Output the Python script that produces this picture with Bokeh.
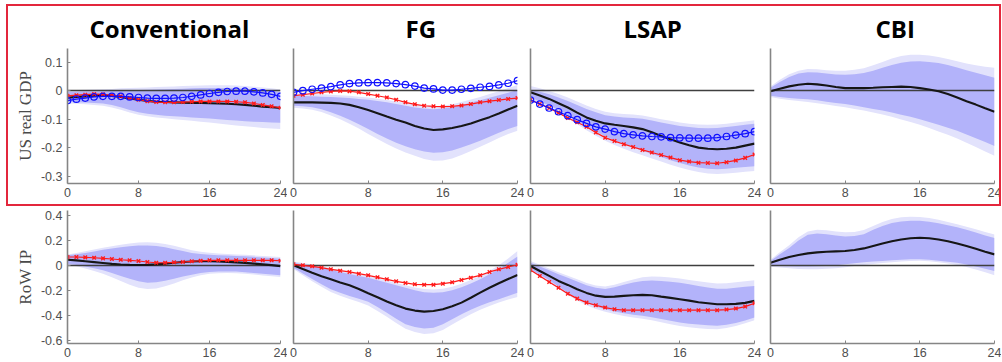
from bokeh.plotting import figure
from bokeh.layouts import row, column
from bokeh.models import Range1d, FixedTicker, InlineStyleSheet
from bokeh.embed import file_html
from bokeh.resources import INLINE

# ---------------- data ----------------
horizon = list(range(25))
titles = ["Conventional", "FG", "LSAP", "CBI"]
row_labels = ["US real GDP", "RoW IP"]
x_ticks = [0, 8, 16, 24]
gdp_ticks = [-0.3, -0.2, -0.1, 0, 0.1]
gdp_tick_labels = ["-0.3", "-0.2", "-0.1", "0", "0.1"]
ip_ticks = [-0.6, -0.4, -0.2, 0, 0.2, 0.4]
ip_tick_labels = ["-0.6", "-0.4", "-0.2", "0", "0.2", "0.4"]

# US real GDP -- Conventional
gdp_conv_med = [-0.025,-0.022,-0.020,-0.018,-0.018,-0.019,-0.022,-0.027,-0.032,-0.036,-0.039,-0.040,-0.041,-0.042,-0.043,-0.043,-0.044,-0.045,-0.046,-0.048,-0.050,-0.053,-0.056,-0.058,-0.061]
gdp_conv_in_hi = [-0.005,-0.004,-0.003,-0.003,-0.002,-0.001,0.000,0.001,0.002,0.003,0.004,0.005,0.006,0.007,0.008,0.009,0.009,0.009,0.009,0.008,0.007,0.005,0.002,-0.001,-0.005]
gdp_conv_in_lo = [-0.040,-0.041,-0.042,-0.043,-0.045,-0.050,-0.058,-0.068,-0.076,-0.081,-0.085,-0.088,-0.090,-0.092,-0.094,-0.096,-0.098,-0.100,-0.103,-0.105,-0.107,-0.109,-0.110,-0.112,-0.113]
gdp_conv_out_hi = [0.001,0.002,0.003,0.004,0.005,0.006,0.008,0.009,0.010,0.011,0.013,0.014,0.015,0.016,0.017,0.018,0.019,0.019,0.019,0.018,0.016,0.014,0.011,0.008,0.004]
gdp_conv_out_lo = [-0.045,-0.046,-0.048,-0.050,-0.053,-0.059,-0.067,-0.077,-0.085,-0.090,-0.094,-0.097,-0.100,-0.103,-0.106,-0.109,-0.112,-0.115,-0.119,-0.122,-0.125,-0.128,-0.131,-0.133,-0.135]
gdp_conv_red = [-0.018,-0.016,-0.014,-0.012,-0.013,-0.016,-0.020,-0.026,-0.032,-0.037,-0.040,-0.041,-0.041,-0.040,-0.039,-0.038,-0.038,-0.038,-0.038,-0.039,-0.041,-0.045,-0.050,-0.055,-0.060]
gdp_conv_blue = [-0.035,-0.030,-0.026,-0.022,-0.020,-0.020,-0.020,-0.022,-0.024,-0.026,-0.027,-0.027,-0.026,-0.024,-0.020,-0.015,-0.010,-0.006,-0.003,-0.002,-0.002,-0.004,-0.008,-0.013,-0.020]

# US real GDP -- FG
gdp_fg_med = [-0.041,-0.041,-0.041,-0.042,-0.043,-0.045,-0.050,-0.058,-0.068,-0.079,-0.091,-0.102,-0.112,-0.124,-0.133,-0.138,-0.136,-0.131,-0.124,-0.115,-0.104,-0.093,-0.080,-0.066,-0.053]
gdp_fg_in_hi = [-0.018,-0.019,-0.020,-0.021,-0.022,-0.024,-0.026,-0.029,-0.032,-0.036,-0.041,-0.047,-0.053,-0.059,-0.063,-0.065,-0.063,-0.058,-0.050,-0.042,-0.034,-0.025,-0.016,-0.007,0.002]
gdp_fg_in_lo = [-0.053,-0.055,-0.058,-0.065,-0.076,-0.088,-0.102,-0.118,-0.135,-0.152,-0.168,-0.183,-0.195,-0.206,-0.214,-0.218,-0.216,-0.210,-0.200,-0.188,-0.176,-0.162,-0.148,-0.135,-0.124]
gdp_fg_out_hi = [-0.010,-0.011,-0.012,-0.013,-0.014,-0.016,-0.018,-0.021,-0.024,-0.028,-0.033,-0.038,-0.043,-0.049,-0.053,-0.055,-0.053,-0.048,-0.040,-0.031,-0.022,-0.012,-0.002,0.009,0.020]
gdp_fg_out_lo = [-0.060,-0.063,-0.067,-0.075,-0.087,-0.100,-0.116,-0.133,-0.152,-0.170,-0.187,-0.203,-0.217,-0.229,-0.240,-0.246,-0.245,-0.238,-0.226,-0.212,-0.197,-0.182,-0.166,-0.152,-0.141]
gdp_fg_red = [-0.018,-0.014,-0.010,-0.006,-0.003,-0.001,-0.002,-0.006,-0.012,-0.018,-0.024,-0.032,-0.041,-0.048,-0.053,-0.055,-0.056,-0.055,-0.052,-0.047,-0.041,-0.037,-0.033,-0.029,-0.026]
gdp_fg_blue = [-0.006,0.000,0.005,0.009,0.014,0.020,0.025,0.027,0.028,0.028,0.027,0.025,0.021,0.016,0.009,0.006,0.002,0.002,0.005,0.008,0.012,0.015,0.020,0.026,0.035]

# US real GDP -- LSAP
gdp_lsap_med = [-0.006,-0.017,-0.029,-0.044,-0.059,-0.077,-0.094,-0.106,-0.115,-0.120,-0.124,-0.129,-0.135,-0.146,-0.159,-0.171,-0.182,-0.192,-0.200,-0.204,-0.206,-0.204,-0.200,-0.193,-0.186]
gdp_lsap_in_hi = [0.004,-0.004,-0.013,-0.024,-0.036,-0.050,-0.064,-0.076,-0.086,-0.091,-0.094,-0.096,-0.099,-0.105,-0.112,-0.118,-0.124,-0.128,-0.131,-0.132,-0.131,-0.128,-0.124,-0.120,-0.116]
gdp_lsap_in_lo = [-0.024,-0.038,-0.052,-0.068,-0.085,-0.104,-0.124,-0.143,-0.160,-0.175,-0.188,-0.200,-0.211,-0.222,-0.233,-0.244,-0.254,-0.263,-0.270,-0.274,-0.276,-0.274,-0.271,-0.268,-0.265]
gdp_lsap_out_hi = [0.016,0.008,-0.001,-0.012,-0.024,-0.038,-0.052,-0.064,-0.074,-0.079,-0.082,-0.084,-0.087,-0.093,-0.100,-0.106,-0.112,-0.116,-0.119,-0.120,-0.119,-0.116,-0.112,-0.108,-0.104]
gdp_lsap_out_lo = [-0.032,-0.047,-0.063,-0.080,-0.098,-0.118,-0.139,-0.158,-0.176,-0.191,-0.204,-0.216,-0.227,-0.238,-0.249,-0.260,-0.270,-0.279,-0.286,-0.291,-0.293,-0.291,-0.288,-0.285,-0.282]
gdp_lsap_red = [-0.033,-0.047,-0.061,-0.078,-0.096,-0.111,-0.127,-0.147,-0.165,-0.177,-0.188,-0.198,-0.208,-0.217,-0.226,-0.235,-0.244,-0.249,-0.253,-0.254,-0.255,-0.251,-0.245,-0.236,-0.224]
gdp_lsap_blue = [-0.033,-0.047,-0.061,-0.074,-0.088,-0.102,-0.115,-0.127,-0.135,-0.144,-0.151,-0.155,-0.159,-0.161,-0.162,-0.165,-0.166,-0.167,-0.167,-0.167,-0.165,-0.161,-0.156,-0.151,-0.144]

# US real GDP -- CBI
gdp_cbi_med = [-0.002,0.007,0.015,0.021,0.024,0.022,0.018,0.013,0.009,0.009,0.009,0.010,0.012,0.013,0.014,0.013,0.009,0.004,-0.002,-0.012,-0.024,-0.037,-0.049,-0.062,-0.074]
gdp_cbi_in_hi = [0.010,0.030,0.048,0.060,0.065,0.064,0.060,0.057,0.056,0.058,0.062,0.070,0.080,0.090,0.098,0.102,0.103,0.101,0.097,0.090,0.081,0.072,0.063,0.054,0.045]
gdp_cbi_in_lo = [-0.018,-0.022,-0.026,-0.028,-0.030,-0.034,-0.039,-0.043,-0.047,-0.052,-0.058,-0.064,-0.070,-0.077,-0.085,-0.092,-0.100,-0.110,-0.120,-0.130,-0.141,-0.154,-0.167,-0.180,-0.194]
gdp_cbi_out_hi = [0.015,0.038,0.058,0.070,0.076,0.075,0.072,0.070,0.070,0.073,0.079,0.089,0.101,0.113,0.122,0.126,0.126,0.123,0.118,0.111,0.103,0.095,0.089,0.084,0.080]
gdp_cbi_out_lo = [-0.022,-0.028,-0.033,-0.036,-0.040,-0.044,-0.049,-0.054,-0.058,-0.064,-0.070,-0.077,-0.084,-0.092,-0.101,-0.110,-0.120,-0.131,-0.143,-0.155,-0.168,-0.183,-0.198,-0.214,-0.229]

# RoW IP -- Conventional
ip_conv_med = [0.045,0.040,0.033,0.026,0.019,0.012,0.007,0.004,0.003,0.004,0.008,0.014,0.021,0.027,0.031,0.033,0.033,0.031,0.028,0.024,0.020,0.014,0.008,0.002,-0.006]
ip_conv_in_hi = [0.080,0.090,0.100,0.112,0.125,0.135,0.145,0.153,0.160,0.160,0.155,0.145,0.130,0.115,0.100,0.092,0.085,0.081,0.078,0.075,0.072,0.068,0.063,0.058,0.053]
ip_conv_in_lo = [0.013,0.003,-0.010,-0.024,-0.040,-0.062,-0.085,-0.108,-0.128,-0.140,-0.136,-0.123,-0.107,-0.090,-0.075,-0.062,-0.053,-0.050,-0.049,-0.050,-0.055,-0.061,-0.068,-0.074,-0.080]
ip_conv_out_hi = [0.088,0.100,0.113,0.127,0.142,0.154,0.165,0.175,0.183,0.185,0.182,0.172,0.157,0.140,0.122,0.110,0.102,0.096,0.092,0.088,0.084,0.080,0.075,0.071,0.067]
ip_conv_out_lo = [0.005,-0.008,-0.025,-0.045,-0.068,-0.095,-0.125,-0.155,-0.180,-0.190,-0.185,-0.168,-0.145,-0.120,-0.098,-0.080,-0.068,-0.063,-0.062,-0.064,-0.068,-0.074,-0.081,-0.087,-0.093]
ip_conv_red = [0.067,0.067,0.064,0.061,0.056,0.051,0.045,0.040,0.035,0.027,0.021,0.021,0.024,0.027,0.032,0.037,0.040,0.040,0.040,0.040,0.040,0.040,0.040,0.040,0.037]

# RoW IP -- FG
ip_fg_med = [0.000,-0.030,-0.059,-0.087,-0.112,-0.137,-0.160,-0.190,-0.224,-0.256,-0.290,-0.320,-0.347,-0.363,-0.371,-0.366,-0.352,-0.328,-0.299,-0.260,-0.219,-0.180,-0.144,-0.110,-0.077]
ip_fg_in_hi = [0.020,0.008,-0.005,-0.020,-0.037,-0.053,-0.070,-0.085,-0.100,-0.120,-0.140,-0.160,-0.180,-0.200,-0.215,-0.220,-0.215,-0.200,-0.175,-0.145,-0.112,-0.072,-0.030,0.020,0.070]
ip_fg_in_lo = [-0.019,-0.065,-0.110,-0.152,-0.192,-0.220,-0.245,-0.268,-0.293,-0.335,-0.380,-0.428,-0.472,-0.495,-0.507,-0.500,-0.472,-0.432,-0.392,-0.357,-0.325,-0.297,-0.272,-0.245,-0.219]
ip_fg_out_hi = [0.030,0.018,0.006,-0.008,-0.024,-0.040,-0.056,-0.071,-0.086,-0.104,-0.122,-0.141,-0.160,-0.178,-0.190,-0.193,-0.187,-0.172,-0.148,-0.118,-0.084,-0.044,0.000,0.055,0.115]
ip_fg_out_lo = [-0.030,-0.080,-0.128,-0.172,-0.213,-0.243,-0.270,-0.295,-0.322,-0.366,-0.413,-0.462,-0.508,-0.535,-0.550,-0.545,-0.518,-0.475,-0.432,-0.392,-0.356,-0.326,-0.299,-0.274,-0.253]
ip_fg_red = [0.008,0.000,-0.008,-0.019,-0.032,-0.043,-0.053,-0.067,-0.080,-0.096,-0.112,-0.128,-0.141,-0.152,-0.155,-0.155,-0.147,-0.136,-0.117,-0.099,-0.080,-0.053,-0.032,-0.013,0.005]

# RoW IP -- LSAP
ip_lsap_med = [-0.005,-0.045,-0.085,-0.125,-0.157,-0.192,-0.221,-0.243,-0.253,-0.251,-0.245,-0.240,-0.237,-0.240,-0.251,-0.261,-0.272,-0.283,-0.296,-0.304,-0.312,-0.312,-0.309,-0.301,-0.285]
ip_lsap_in_hi = [0.020,-0.010,-0.040,-0.072,-0.100,-0.130,-0.160,-0.180,-0.190,-0.175,-0.155,-0.138,-0.125,-0.122,-0.125,-0.132,-0.140,-0.152,-0.165,-0.177,-0.187,-0.187,-0.180,-0.172,-0.165]
ip_lsap_in_lo = [-0.032,-0.075,-0.120,-0.170,-0.219,-0.262,-0.300,-0.330,-0.352,-0.370,-0.385,-0.396,-0.405,-0.416,-0.430,-0.445,-0.459,-0.468,-0.475,-0.481,-0.485,-0.477,-0.462,-0.442,-0.419]
ip_lsap_out_hi = [0.035,0.005,-0.025,-0.055,-0.083,-0.112,-0.141,-0.162,-0.170,-0.155,-0.133,-0.113,-0.095,-0.090,-0.092,-0.098,-0.106,-0.117,-0.128,-0.138,-0.145,-0.143,-0.135,-0.127,-0.120]
ip_lsap_out_lo = [-0.045,-0.090,-0.137,-0.188,-0.238,-0.282,-0.320,-0.350,-0.372,-0.391,-0.407,-0.419,-0.429,-0.441,-0.456,-0.472,-0.487,-0.497,-0.505,-0.510,-0.512,-0.503,-0.487,-0.465,-0.440]
ip_lsap_red = [-0.037,-0.085,-0.133,-0.179,-0.227,-0.267,-0.299,-0.320,-0.339,-0.352,-0.360,-0.360,-0.360,-0.360,-0.360,-0.360,-0.360,-0.360,-0.360,-0.360,-0.360,-0.355,-0.347,-0.331,-0.304]

# RoW IP -- CBI
ip_cbi_med = [0.021,0.045,0.067,0.083,0.096,0.104,0.109,0.112,0.115,0.123,0.136,0.156,0.176,0.194,0.208,0.217,0.221,0.217,0.208,0.194,0.176,0.155,0.133,0.110,0.088]
ip_cbi_in_hi = [0.035,0.090,0.140,0.200,0.245,0.255,0.250,0.240,0.232,0.235,0.250,0.285,0.315,0.340,0.352,0.357,0.357,0.350,0.338,0.322,0.305,0.285,0.263,0.240,0.220]
ip_cbi_in_lo = [-0.005,-0.006,-0.008,-0.009,-0.010,-0.008,-0.005,0.000,0.008,0.016,0.024,0.030,0.035,0.040,0.045,0.048,0.048,0.044,0.037,0.029,0.020,0.006,-0.010,-0.027,-0.045]
ip_cbi_out_hi = [0.045,0.105,0.162,0.225,0.272,0.285,0.282,0.272,0.265,0.268,0.283,0.316,0.348,0.372,0.385,0.390,0.388,0.380,0.366,0.348,0.330,0.310,0.290,0.268,0.248]
ip_cbi_out_lo = [-0.012,-0.018,-0.024,-0.029,-0.032,-0.031,-0.028,-0.023,-0.015,-0.006,0.003,0.011,0.018,0.025,0.031,0.035,0.036,0.032,0.024,0.014,0.002,-0.014,-0.033,-0.056,-0.080]

# ---------------- styling / layout constants ----------------
OUTER = "#e2e2fc"
INNER = "#b3b3fa"
MED = "#161616"
ZERO = "#3f3f3f"
AXIS = "#858585"
TICKTXT = "#4f4f4f"
RED = "#ff1a1a"
BLUE = "#1010ff"

COLS = [(67, 213, 7), (6, 224, 7), (6, 224, 7), (9, 224, 7)]
ROWS = [(48, 135, 24), (3, 133, 19)]
YRANGES = [(-0.326, 0.148), (-0.627, 0.44)]
TITLE_OFFSET = [22, 112, 93, 105]   # left edge of each title, px from frame left

panels = [
    [dict(med=gdp_conv_med, ilo=gdp_conv_in_lo, ihi=gdp_conv_in_hi, olo=gdp_conv_out_lo, ohi=gdp_conv_out_hi, red=gdp_conv_red, blue=gdp_conv_blue),
     dict(med=gdp_fg_med, ilo=gdp_fg_in_lo, ihi=gdp_fg_in_hi, olo=gdp_fg_out_lo, ohi=gdp_fg_out_hi, red=gdp_fg_red, blue=gdp_fg_blue),
     dict(med=gdp_lsap_med, ilo=gdp_lsap_in_lo, ihi=gdp_lsap_in_hi, olo=gdp_lsap_out_lo, ohi=gdp_lsap_out_hi, red=gdp_lsap_red, blue=gdp_lsap_blue),
     dict(med=gdp_cbi_med, ilo=gdp_cbi_in_lo, ihi=gdp_cbi_in_hi, olo=gdp_cbi_out_lo, ohi=gdp_cbi_out_hi, red=None, blue=None)],
    [dict(med=ip_conv_med, ilo=ip_conv_in_lo, ihi=ip_conv_in_hi, olo=ip_conv_out_lo, ohi=ip_conv_out_hi, red=ip_conv_red, blue=None),
     dict(med=ip_fg_med, ilo=ip_fg_in_lo, ihi=ip_fg_in_hi, olo=ip_fg_out_lo, ohi=ip_fg_out_hi, red=ip_fg_red, blue=None),
     dict(med=ip_lsap_med, ilo=ip_lsap_in_lo, ihi=ip_lsap_in_hi, olo=ip_lsap_out_lo, ohi=ip_lsap_out_hi, red=ip_lsap_red, blue=None),
     dict(med=ip_cbi_med, ilo=ip_cbi_in_lo, ihi=ip_cbi_in_hi, olo=ip_cbi_out_lo, ohi=ip_cbi_out_hi, red=None, blue=None)],
]
y_ticks = [gdp_ticks, ip_ticks]
y_tick_labels = [gdp_tick_labels, ip_tick_labels]


def make_panel(r, c, d):
    lb, fw, rb = COLS[c]
    tb, fh, bb = ROWS[r]
    y0, y1 = YRANGES[r]
    p = figure(width=lb + fw + rb, height=tb + fh + bb,
               x_range=Range1d(0, 24), y_range=Range1d(y0, y1),
               output_backend="svg", toolbar_location=None,
               min_border_left=lb, min_border_right=rb,
               min_border_top=tb, min_border_bottom=bb)
    p.outline_line_color = None
    p.grid.visible = False
    p.background_fill_color = "white"
    p.border_fill_color = "white"

    if r == 0:
        p.title.text = titles[c]
        p.title.align = "left"
        p.title.offset = TITLE_OFFSET[c]
        p.title.text_font = "Open Sans"
        p.title.text_font_style = "bold"
        p.title.text_font_size = "24px"
        p.title.text_color = "#000000"
        p.title.standoff = 8
    else:
        p.title.visible = False

    p.varea(x=horizon, y1=d["olo"], y2=d["ohi"], fill_color=OUTER, fill_alpha=1)
    p.varea(x=horizon, y1=d["ilo"], y2=d["ihi"], fill_color=INNER, fill_alpha=1)
    p.hspan(y=[0], line_color=ZERO, line_width=1.4)
    p.line(horizon, d["med"], line_color=MED, line_width=2.1)
    if d["red"] is not None:
        p.line(horizon, d["red"], line_color=RED, line_width=1.2)
        p.scatter(horizon, d["red"], marker="x", size=5, line_color=RED, line_width=1.4)
    if d["blue"] is not None:
        p.line(horizon, d["blue"], line_color=BLUE, line_width=1.2)
        p.scatter(horizon, d["blue"], marker="circle", size=6.5, line_color=BLUE,
                  fill_color=None, line_width=1.2)

    xa = p.xaxis[0]
    xa.ticker = FixedTicker(ticks=x_ticks)
    xa.major_tick_in = 3
    xa.major_tick_out = 0
    xa.minor_tick_in = 0
    xa.minor_tick_out = 0
    xa.axis_line_color = AXIS
    xa.axis_line_width = 1.6
    xa.major_tick_line_color = AXIS
    xa.major_label_standoff = 4
    xa.major_label_text_font = "Liberation Sans"
    xa.major_label_text_font_size = "12.5px"
    xa.major_label_text_color = TICKTXT

    ya = p.yaxis[0]
    ya.axis_line_color = AXIS
    ya.axis_line_width = 1.6
    ya.minor_tick_in = 0
    ya.minor_tick_out = 0
    ya.major_tick_out = 0
    if c == 0:
        ya.ticker = FixedTicker(ticks=y_ticks[r])
        ya.major_label_overrides = {t: s for t, s in zip(y_ticks[r], y_tick_labels[r])}
        ya.major_tick_in = 3
        ya.major_tick_line_color = AXIS
        ya.major_label_standoff = 5
        ya.major_label_text_font = "Liberation Sans"
        ya.major_label_text_font_size = "12.5px"
        ya.major_label_text_color = TICKTXT
        ya.axis_label = row_labels[r]
        ya.axis_label_text_font = "Liberation Serif"
        ya.axis_label_text_font_style = "normal"
        ya.axis_label_text_font_size = "17px"
        ya.axis_label_text_color = "#4a4a4a"
        ya.axis_label_standoff = 3
    else:
        ya.ticker = FixedTicker(ticks=[])
        ya.major_tick_in = 0
        ya.major_label_standoff = 0
        ya.major_label_text_font_size = "0px"
    return p


figs = [[make_panel(r, c, panels[r][c]) for c in range(4)] for r in range(2)]

frame_css = InlineStyleSheet(css="""
:host { position: relative; }
:host::after {
  content: "";
  position: absolute;
  left: 6px; top: 4px;
  width: 995px; height: 202px;
  border: 2.5px solid #e3263c;
  box-sizing: border-box;
  pointer-events: none;
  z-index: 100;
}
""")

top = row(*figs[0], spacing=0, stylesheets=[frame_css])
bottom = row(*figs[1], spacing=0)
layout = column(top, bottom, spacing=0)

open("out.html", "w").write(file_html(layout, INLINE))
